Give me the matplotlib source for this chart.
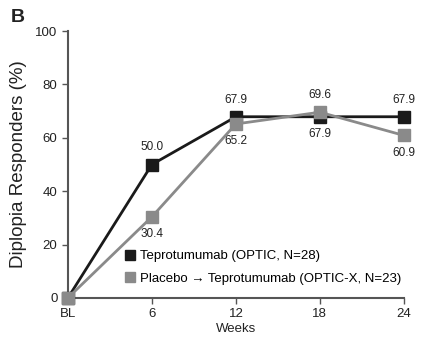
import matplotlib
matplotlib.use("Agg")
import matplotlib.pyplot as plt

weeks = [0, 6, 12, 18, 24]
tick_labels = ["BL", "6", "12", "18", "24"]
tepro = [0, 50.0, 67.9, 67.9, 67.9]
placebo = [0, 30.4, 65.2, 69.6, 60.9]
tepro_labels = [None, "50.0", "67.9", "67.9", "67.9"]
placebo_labels = [None, "30.4", "65.2", "69.6", "60.9"]
# position of label: +1 above, -1 below
tepro_pos = [0, 1, 1, -1, 1]
placebo_pos = [0, -1, -1, 1, -1]

c_black = "#1a1a1a"
c_gray = "#8a8a8a"
spine_c = "#555555"

plt.rcParams['font.family'] = ['Liberation Sans', 'DejaVu Sans']
fig = plt.figure(figsize=(4.22, 3.42), dpi=100)
ax = fig.add_axes([0.161, 0.129, 0.796, 0.78])

ax.plot(weeks, tepro, color=c_black, lw=2, marker='s', ms=9, clip_on=False,
        label="Teprotumumab (OPTIC, N=28)", zorder=3)
ax.plot(weeks, placebo, color=c_gray, lw=2, marker='s', ms=9, clip_on=False,
        label="Placebo \u2192 Teprotumumab (OPTIC-X, N=23)", zorder=4)

for x, y, t, p in zip(weeks, tepro, tepro_labels, tepro_pos):
    if t:
        ax.annotate(t, (x, y), xytext=(0, 8 * p), textcoords='offset points',
                    ha='center', va='bottom' if p > 0 else 'top', fontsize=8.5, color='#222222')
for x, y, t, p in zip(weeks, placebo, placebo_labels, placebo_pos):
    if t:
        ax.annotate(t, (x, y), xytext=(0, 8 * p), textcoords='offset points',
                    ha='center', va='bottom' if p > 0 else 'top', fontsize=8.5, color='#222222')

ax.set_xlim(0, 24)
ax.set_ylim(0, 100)
ax.set_xticks(weeks)
ax.set_xticklabels(tick_labels)
ax.set_yticks([0, 20, 40, 60, 80, 100])
for s in ['top', 'right']:
    ax.spines[s].set_visible(False)
for s in ['left', 'bottom']:
    ax.spines[s].set_color(spine_c)
    ax.spines[s].set_linewidth(1.5)
ax.tick_params(colors=spine_c, labelcolor='#222222', labelsize=9.5, length=4, width=1)
ax.set_xlabel("Weeks", fontsize=9.5, color='#222222', labelpad=2)
ax.set_ylabel("Diplopia Responders (%)", fontsize=13.5, color='#222222', labelpad=6)

leg = ax.legend(loc='lower left', bbox_to_anchor=(0.155, 0.03), frameon=False, fontsize=9.5,
                handlelength=0.7, handletextpad=0.4, labelspacing=0.75, borderaxespad=0)
for h in leg.legend_handles:
    h.set_linestyle('None')
    h.set_markersize(6.5)

fig.text(0.026, 0.935, "B", fontsize=14, fontweight='bold', color='#222222')

fig.savefig("out.png", dpi=100)
